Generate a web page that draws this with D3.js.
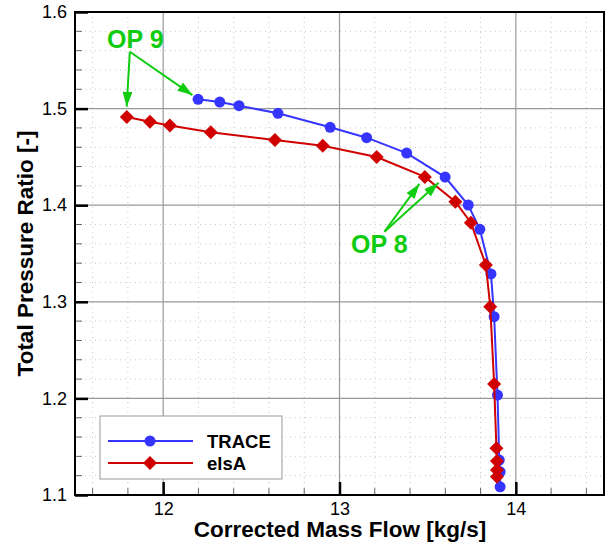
<!DOCTYPE html>
<html>
<head>
<meta charset="utf-8">
<script src="https://cdn.jsdelivr.net/npm/d3@7"></script>
<style>
  body { margin: 0; background: #fff; }
  svg { font-family: "Liberation Sans", Arial, Helvetica, sans-serif; }
</style>
</head>
<body>
<div id="chart"></div>
<script>
// data
var traceFlow = [12.198, 12.321, 12.430, 12.651, 12.947, 13.154, 13.381, 13.599, 13.730, 13.796, 13.859, 13.877, 13.896, 13.906, 13.911, 13.911];
var tracePR   = [1.5096, 1.5068, 1.5030, 1.4951, 1.4806, 1.4699, 1.4540, 1.4291, 1.4002, 1.3750, 1.3288, 1.2846, 1.2035, 1.1362, 1.1240, 1.1085];
var elsaFlow  = [11.794, 11.925, 12.038, 12.270, 12.634, 12.905, 13.211, 13.484, 13.657, 13.745, 13.830, 13.855, 13.877, 13.890, 13.893, 13.893, 13.893];
var elsaPR    = [1.4913, 1.4864, 1.4825, 1.4755, 1.4675, 1.4616, 1.4499, 1.4293, 1.4036, 1.3819, 1.3381, 1.2949, 1.2149, 1.1483, 1.1352, 1.1259, 1.1189];
var xTicks = [12, 13, 14];
var yTicks = [1.1, 1.2, 1.3, 1.4, 1.5, 1.6];
var seriesNames = ["TRACE", "elsA"];
// annotations: label, label position, arrow start, arrow tips (data units)
var annLabels = ["OP 9", "OP 8"];
var annText = [[11.842, 1.5624], [13.226, 1.3505]];
var annFrom = [[11.811, 1.5589], [13.255, 1.3726]];
var annTo = [
    [[11.793, 1.502], [12.166, 1.514]],
    [[13.453, 1.422], [13.562, 1.4233]]
];

var width = 606, height = 546;
var pLeft = 75, pRight = 604, pTop = 12, pBottom = 495;
var green = "#10cc10";

var svg = d3.select("#chart").append("svg")
    .attr("width", width)
    .attr("height", height);

var x = d3.scaleLinear().domain([11.5, 14.5]).range([pLeft, pRight]);
var y = d3.scaleLinear().domain([1.1, 1.6]).range([pBottom, pTop]);

var defs = svg.append("defs");
defs.append("marker")
    .attr("id", "arrowG")
    .attr("viewBox", "0 0 15 10")
    .attr("refX", 15).attr("refY", 5)
    .attr("markerWidth", 15).attr("markerHeight", 10)
    .attr("markerUnits", "userSpaceOnUse")
    .attr("orient", "auto")
    .append("path")
    .attr("d", "M0,0 L15,5 L0,10 Z")
    .attr("fill", green);

// minor grid (dotted)
var xMinor = d3.range(11.6, 14.5, 0.2).filter(v => Math.abs(v - Math.round(v)) > 1e-6);
var yMinor = d3.range(1.12, 1.6, 0.02).filter(v => Math.abs(v * 10 - Math.round(v * 10)) > 1e-6);
var grid = svg.append("g");
grid.selectAll(".vx").data(xMinor).enter().append("line")
    .attr("x1", d => x(d)).attr("x2", d => x(d))
    .attr("y1", pTop).attr("y2", pBottom)
    .attr("stroke", "#c8c8c8").attr("stroke-width", 1).attr("stroke-dasharray", "1,4");
grid.selectAll(".hy").data(yMinor).enter().append("line")
    .attr("y1", d => y(d)).attr("y2", d => y(d))
    .attr("x1", pLeft).attr("x2", pRight)
    .attr("stroke", "#c8c8c8").attr("stroke-width", 1).attr("stroke-dasharray", "1,4");
// major grid
grid.selectAll(".mx").data(xTicks).enter().append("line")
    .attr("x1", d => x(d)).attr("x2", d => x(d))
    .attr("y1", pTop).attr("y2", pBottom)
    .attr("stroke", "#999").attr("stroke-width", 1.2);
grid.selectAll(".my").data(yTicks.slice(1, -1)).enter().append("line")
    .attr("y1", d => y(d)).attr("y2", d => y(d))
    .attr("x1", pLeft).attr("x2", pRight)
    .attr("stroke", "#999").attr("stroke-width", 1.2);

// axes
var xAxis = svg.append("g")
    .attr("transform", `translate(0,${pBottom})`)
    .call(d3.axisBottom(x).tickValues(xTicks).tickSize(-13).tickPadding(7).tickFormat(d3.format("d")));
var yAxis = svg.append("g")
    .attr("transform", `translate(${pLeft},0)`)
    .call(d3.axisLeft(y).tickValues(yTicks).tickSize(-13).tickPadding(8).tickFormat(d3.format(".1f")));
[xAxis, yAxis].forEach(a => {
    a.select(".domain").remove();
    a.selectAll(".tick line").attr("stroke", "#000").attr("stroke-width", 2.5);
    a.selectAll(".tick text").attr("font-size", 18).attr("fill", "#000")
        .attr("font-family", "Liberation Sans, Arial, sans-serif");
});
// minor ticks
svg.append("g").selectAll("line").data(xMinor).enter().append("line")
    .attr("x1", d => x(d)).attr("x2", d => x(d))
    .attr("y1", pBottom).attr("y2", pBottom - 7)
    .attr("stroke", "#666").attr("stroke-width", 1);
svg.append("g").selectAll("line").data(yMinor).enter().append("line")
    .attr("y1", d => y(d)).attr("y2", d => y(d))
    .attr("x1", pLeft).attr("x2", pLeft + 7)
    .attr("stroke", "#666").attr("stroke-width", 1);

// frame
svg.append("rect")
    .attr("x", pLeft).attr("y", pTop)
    .attr("width", pRight - pLeft).attr("height", pBottom - pTop)
    .attr("fill", "none").attr("stroke", "#000").attr("stroke-width", 2);

// axis titles
svg.append("text")
    .attr("x", 340).attr("y", 537)
    .attr("text-anchor", "middle")
    .attr("font-size", 22.5).attr("font-weight", "bold")
    .text("Corrected Mass Flow [kg/s]");
svg.append("text")
    .attr("transform", `translate(33,${(pTop + pBottom) / 2}) rotate(-90)`)
    .attr("text-anchor", "middle")
    .attr("font-size", 22.5).attr("font-weight", "bold")
    .text("Total Pressure Ratio [-]");

// series
var colors = ["#3535ff", "#d00000"];
var trace = traceFlow.map((v, i) => [v, tracePR[i]]);
var elsa = elsaFlow.map((v, i) => [v, elsaPR[i]]);
var line = d3.line().x(d => x(d[0])).y(d => y(d[1]));
var diamond = "M0,-7 L7,0 L0,7 L-7,0 Z";

var plot = svg.append("g");
plot.append("path").datum(trace)
    .attr("d", line).attr("fill", "none")
    .attr("stroke", colors[0]).attr("stroke-width", 2);
plot.selectAll(".tp").data(trace).enter().append("circle")
    .attr("cx", d => x(d[0])).attr("cy", d => y(d[1]))
    .attr("r", 5.5).attr("fill", colors[0]);
plot.append("path").datum(elsa)
    .attr("d", line).attr("fill", "none")
    .attr("stroke", colors[1]).attr("stroke-width", 2);
plot.selectAll(".ep").data(elsa).enter().append("path")
    .attr("d", diamond)
    .attr("transform", d => `translate(${x(d[0])},${y(d[1])})`)
    .attr("fill", colors[1]);

// annotations
var ann = svg.append("g");
annLabels.forEach((lab, i) => {
    ann.append("text")
        .attr("x", x(annText[i][0])).attr("y", y(annText[i][1]))
        .attr("text-anchor", "middle")
        .attr("font-size", 25).attr("font-weight", "bold")
        .attr("fill", green)
        .text(lab);
    annTo[i].forEach(t => {
        ann.append("line")
            .attr("x1", x(annFrom[i][0])).attr("y1", y(annFrom[i][1]))
            .attr("x2", x(t[0])).attr("y2", y(t[1]))
            .attr("stroke", green).attr("stroke-width", 2)
            .attr("marker-end", "url(#arrowG)");
    });
});

// legend
var legend = svg.append("g").attr("transform", "translate(100,416)");
legend.append("rect")
    .attr("width", 182).attr("height", 63)
    .attr("fill", "#fff").attr("stroke", "#999").attr("stroke-width", 1);
var legItem = legend.selectAll(".li").data(seriesNames).enter().append("g")
    .attr("transform", (d, i) => `translate(0,${25 + i * 22})`);
legItem.append("line")
    .attr("x1", 8).attr("x2", 93)
    .attr("stroke", (d, i) => colors[i]).attr("stroke-width", 2);
legItem.each(function (d, i) {
    var g = d3.select(this);
    if (i === 0) g.append("circle").attr("cx", 50).attr("r", 5.5).attr("fill", colors[0]);
    else g.append("path").attr("d", diamond).attr("transform", "translate(50,0)").attr("fill", colors[1]);
});
legItem.append("text")
    .attr("x", 107).attr("y", 7)
    .attr("font-size", 18.5).attr("font-weight", "bold")
    .text(d => d);
</script>
</body>
</html>
